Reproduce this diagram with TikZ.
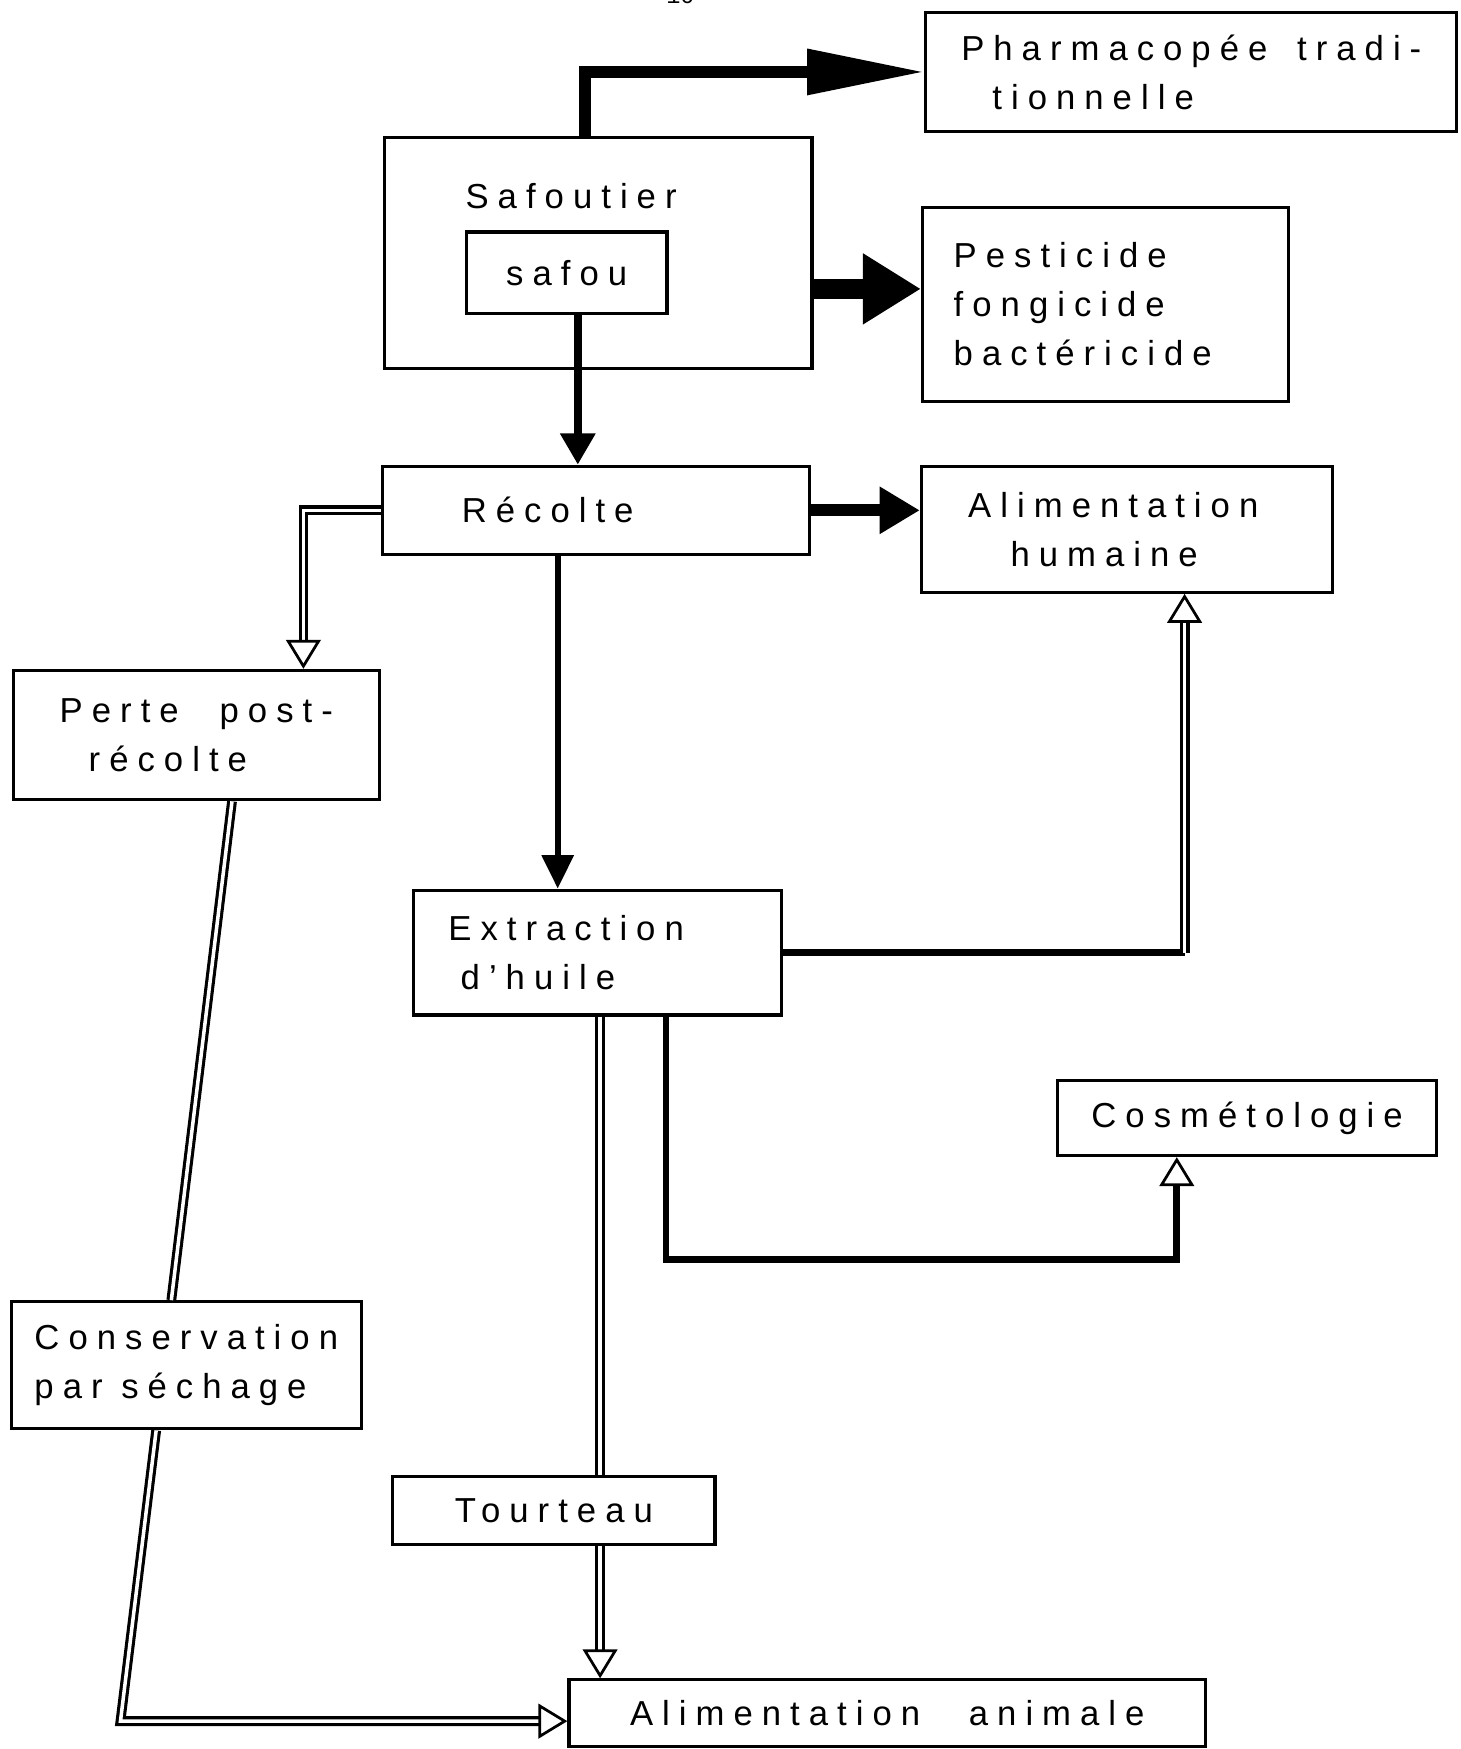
\documentclass[tikz,border=0pt]{standalone}
\usepackage{fontspec}
\setmainfont{Liberation Sans}[LetterSpace=26]
\newfontfamily\pagenumfont{Liberation Mono}
\usetikzlibrary{arrows.meta, calc}

\tikzset{
  txt/.style={font=\fontsize{17.7pt}{25pt}\selectfont},
  box/.style={txt, draw, line width=1.6pt, align=left, inner sep=0pt},
  dbl/.style={double, double distance=1.8pt, line width=1.6pt},
  hollow/.style={-{Triangle[open, length=0.52cm, width=0.62cm, line width=1.4pt]}},
}

\begin{document}
\begin{tikzpicture}[x=0.02cm, y=-0.02cm]
\useasboundingbox (0,0) rectangle (1309,1568);
\clip (0,0) rectangle (1309,1568);

\node[font=\pagenumfont\fontsize{12pt}{12pt}\selectfont, anchor=base] (pagenum) at (610,3) {10};

%---boxes---

\node[box, minimum width=9.52cm, minimum height=2.14cm] (pharma) at (1068,64.5) {Pharmacopée\hspace{0.2cm} tradi-\\\hspace*{0.56cm}tionnelle};
\node[box, minimum width=7.66cm, minimum height=4.14cm] (safoutier) at (536.5,226.5) {};
\node[txt] (safoutiertxt) at (512,176) {Safoutier};
\node[box, minimum width=3.6cm, minimum height=1.46cm] (safou) at (508,244.5) {safou};
\node[box, text width=5.44cm, inner xsep=0.56cm, minimum height=3.48cm] (pest) at (991,273) {Pesticide\\fongicide\\bactéricide};
\node[box, text width=4.82cm, inner xsep=1.42cm, minimum height=1.58cm] (recolte) at (534.5,457.5) {Récolte};
\node[box, text width=5.7cm, inner xsep=0.84cm, minimum height=2.26cm] (humaine) at (1010.5,474.5) {Alimentation\\\hspace*{0.76cm}humaine};
\node[box, minimum width=6.56cm, minimum height=2.32cm] (perte) at (176,659) {Perte\hspace{0.4cm} post-\\\hspace*{0.52cm}récolte};
\node[box, text width=5.36cm, inner xsep=0.62cm, minimum height=2.24cm] (extraction) at (536,854) {Extraction\\\hspace*{0.22cm}d'huile};
\node[box, minimum width=6.8cm, minimum height=1.34cm] (cosmeto) at (1118,1002.5) {Cosmétologie};
\node[box, minimum width=6.28cm, minimum height=2.28cm] (conserv) at (167,1224) {Conservation\\par séchage};
\node[box, minimum width=5.78cm, minimum height=1.22cm] (tourteau) at (496.5,1354.5) {Tourteau};
\node[box, minimum width=11.42cm, minimum height=1.2cm] (animale) at (795.5,1536) {Alimentation\hspace{0.54cm} animale};

%---fat arrows---

\coordinate (p0) at ($(safoutier.north)+(-12,0)$);
\draw[line width=0.2cm, -{Triangle[length=2.1cm, width=0.78cm]}] (p0) |- (pharma.west);

\coordinate (p1) at ($(safoutier.east)+(0,32.5)$);
\draw[line width=0.36cm, -{Triangle[length=1.04cm, width=1.2cm]}] (p1) -- (p1 -| pest.west);

\coordinate (p2) at ($(safou.south)+(10,0)$);
\draw[line width=0.14cm, -{Triangle[length=0.56cm, width=0.6cm]}] (p2) -- (p2 |- recolte.north);

\draw[line width=0.22cm, -{Triangle[length=0.72cm, width=0.8cm]}] (recolte.east) -- (recolte.east -| humaine.west);

\coordinate (p4) at ($(recolte.south)+(-34.5,0)$);
\draw[line width=0.1cm, -{Triangle[length=0.6cm, width=0.56cm]}] (p4) -- (p4 |- extraction.north);

%---hollow arrows---

\coordinate (p3) at ($(perte.north)+(96,0)$);
\draw[dbl, hollow] (recolte.west) -| (p3);

\coordinate (p5) at ($(humaine.south)+(51.5,0)$);
\coordinate (c1) at (p5 |- extraction.east);
\draw[line width=0.12cm] (extraction.east) -- (c1);
\draw[dbl, hollow] (c1) -- (p5);

\coordinate (p6) at ($(extraction.south)+(61,0)$);
\coordinate (p7) at ($(cosmeto.south)+(-63,0)$);
\draw[line width=0.12cm, hollow] (p6) -- ++(0,218) -| (p7);

\coordinate (p8) at ($(extraction.south)+(2,0)$);
\draw[dbl] (p8) -- (p8 |- tourteau.north);
\coordinate (p9) at (p8 |- tourteau.south);
\draw[dbl, hollow] (p9) -- (p9 |- animale.north);

\coordinate (p10) at ($(perte.south)+(32,0)$);
\coordinate (p11) at ($(conserv.north)+(-13.4,0)$);
\draw[dbl] (p10) -- (p11);

\coordinate (p12) at ($(conserv.south)+(-27,0)$);
\coordinate (bend) at (108,1543);
\draw[dbl, hollow] (p12) -- (bend) -- (bend -| animale.west);

\end{tikzpicture}
\end{document}
